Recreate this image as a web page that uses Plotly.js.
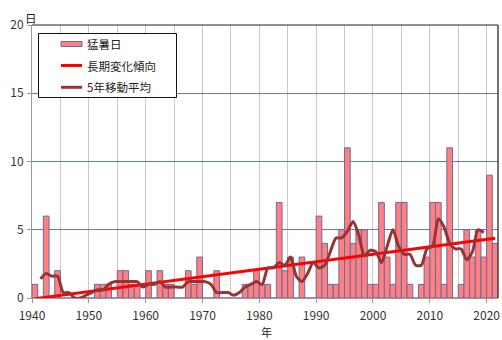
<!DOCTYPE html>
<html><head><meta charset="utf-8">
<script src="https://cdn.plot.ly/plotly-3.0.1.min.js"></script>
<style>html,body{margin:0;padding:0;background:#fff}#chart{width:502px;height:340px}</style>
</head><body><div id="chart"></div>
<script>
const years = [1940,1941,1942,1943,1944,1945,1946,1947,1948,1949,
  1950,1951,1952,1953,1954,1955,1956,1957,1958,1959,
  1960,1961,1962,1963,1964,1965,1966,1967,1968,1969,
  1970,1971,1972,1973,1974,1975,1976,1977,1978,1979,
  1980,1981,1982,1983,1984,1985,1986,1987,1988,1989,
  1990,1991,1992,1993,1994,1995,1996,1997,1998,1999,
  2000,2001,2002,2003,2004,2005,2006,2007,2008,2009,
  2010,2011,2012,2013,2014,2015,2016,2017,2018,2019,
  2020,2021];
const days = [1,0,6,0,2,0,0,0,0,0,
  0,1,1,1,0,2,2,1,1,0,
  2,0,2,1,1,0,0,2,1,3,
  0,0,2,0,0,0,0,1,1,2,
  1,1,0,7,2,3,0,3,0,0,
  6,4,1,1,5,11,4,5,5,1,
  1,7,3,1,7,7,1,0,1,3,
  7,7,1,11,0,1,5,3,5,3,
  9,4];
const maYears = [1941,1942,1943,1944,1945,1946,1947,1948,1949,
  1950,1951,1952,1953,1954,1955,1956,1957,1958,1959,
  1960,1961,1962,1963,1964,1965,1966,1967,1968,1969,
  1970,1971,1972,1973,1974,1975,1976,1977,1978,1979,
  1980,1981,1982,1983,1984,1985,1986,1987,1988,1989,
  1990,1991,1992,1993,1994,1995,1996,1997,1998,1999,
  2000,2001,2002,2003,2004,2005,2006,2007,2008,2009,
  2010,2011,2012,2013,2014,2015,2016,2017,2018,2019];
const maValues = [1.4,1.8,1.6,1.6,0.4,0.4,0.0,0.0,0.2,
  0.4,0.6,0.6,1.0,1.2,1.2,1.2,1.2,1.2,0.8,
  1.0,1.0,1.2,0.8,0.8,0.8,0.8,1.2,1.2,1.2,
  1.2,1.0,0.4,0.4,0.4,0.2,0.4,0.8,1.0,1.2,
  1.0,2.2,2.2,2.6,2.4,3.0,1.6,1.2,1.8,2.6,
  2.2,2.4,3.4,4.4,4.4,4.9,5.6,4.6,3.1,3.5,
  3.4,2.6,3.8,5.0,3.8,3.2,3.2,2.4,2.4,3.6,
  3.8,5.8,5.2,4.0,3.6,3.6,2.8,3.4,5.0,4.8];
const trendYears = [1940, 2021];
const trendValues = [-0.05, 4.38];
const seriesNames = ['猛暑日', '長期変化傾向', '5年移動平均'];
const yUnit = '日';
const xUnit = '年';

const FONT = '"Noto Sans CJK JP", "Noto Sans", sans-serif';
const BAR_FILL = '#ff8080', BAR_LINE = '#6a6a9e', TREND = '#ff0000', MA = '#993333';
const mid = v => v + 0.5;

const traces = [
  {type: 'bar', x: years, y: days, offset: 0, width: 1,
   marker: {color: BAR_FILL, line: {color: BAR_LINE, width: 1}},
   name: seriesNames[0], hoverinfo: 'x+y'},
  {type: 'scatter', mode: 'lines', x: trendYears.map(mid), y: trendValues,
   line: {color: TREND, width: 3}, name: seriesNames[1]},
  {type: 'scatter', mode: 'lines', x: maYears.map(mid), y: maValues,
   line: {color: MA, width: 3, shape: 'spline', smoothing: 0.7}, name: seriesNames[2]}
];

// plot area pixel geometry: left 32, right 498, top 25, bottom 298
const L = 32, W = 466, T = 25, H = 273;
const px = x => (x - L) / W;
const py = y => (T + H - y) / H;

const shapes = [
  {type: 'line', xref: 'paper', yref: 'paper', x0: 0, x1: 1, y0: 1, y1: 1, line: {color: '#222', width: 1}},
  {type: 'line', xref: 'paper', yref: 'paper', x0: 1, x1: 1, y0: 0, y1: 1, line: {color: '#444', width: 1.5}},
  {type: 'rect', xref: 'paper', yref: 'paper', x0: px(38.5), x1: px(176.5), y0: py(97.5), y1: py(33.5),
   line: {color: '#111', width: 1}, fillcolor: '#ffffff'},
  {type: 'rect', xref: 'paper', yref: 'paper', x0: px(61), x1: px(82), y0: py(46.5), y1: py(41.5),
   line: {color: BAR_LINE, width: 1}, fillcolor: BAR_FILL},
  {type: 'line', xref: 'paper', yref: 'paper', x0: px(61), x1: px(82), y0: py(65.5), y1: py(65.5),
   line: {color: TREND, width: 3}},
  {type: 'line', xref: 'paper', yref: 'paper', x0: px(61), x1: px(82), y0: py(87.3), y1: py(87.3),
   line: {color: MA, width: 3}}
];

const ann = (text, x, y, xa, size) => ({text, xref: 'paper', yref: 'paper', x: px(x), y: py(y),
  xanchor: xa || 'left', yanchor: 'middle', showarrow: false,
  font: {family: FONT, size: size || 11.5, color: '#222'}});

const annotations = [
  ann(seriesNames[0], 85, 44.3),
  ann(seriesNames[1], 85, 65.7),
  ann(seriesNames[2], 85, 87.3),
  ann(yUnit, 31, 17.5, 'center'),
  ann(xUnit, 266, 331.5, 'center', 11)
];

const layout = {
  width: 502, height: 340,
  margin: {l: L, r: 502 - L - W, t: T, b: 340 - T - H, pad: 0},
  paper_bgcolor: '#ffffff', plot_bgcolor: '#ffffff',
  showlegend: false, bargap: 0,
  font: {family: FONT, size: 12, color: '#333'},
  xaxis: {range: [1940, 2022], tickmode: 'linear', tick0: 1940, dtick: 10,
    ticks: 'outside', ticklen: 4, tickcolor: '#999', showline: true, linecolor: '#999', linewidth: 1,
    showgrid: true, gridcolor: '#c8c8c8', gridwidth: 1, zeroline: false, ticklabelstandoff: 3,
    minor: {tick0: 1940, dtick: 5, showgrid: true, gridcolor: '#c8c8c8', gridwidth: 1},
    tickfont: {family: FONT, size: 12, color: '#333'}, fixedrange: true},
  yaxis: {range: [0, 20], tickmode: 'linear', tick0: 0, dtick: 5,
    ticks: 'outside', ticklen: 4, tickcolor: '#999', showline: true, linecolor: '#999', linewidth: 1,
    showgrid: true, gridcolor: '#5a7db5', gridwidth: 1, zeroline: false, ticklabelstandoff: 1,
    tickfont: {family: FONT, size: 12, color: '#333'}, fixedrange: true},
  shapes, annotations
};

Plotly.newPlot('chart', traces, layout, {staticPlot: true, displayModeBar: false});
</script></body></html>
